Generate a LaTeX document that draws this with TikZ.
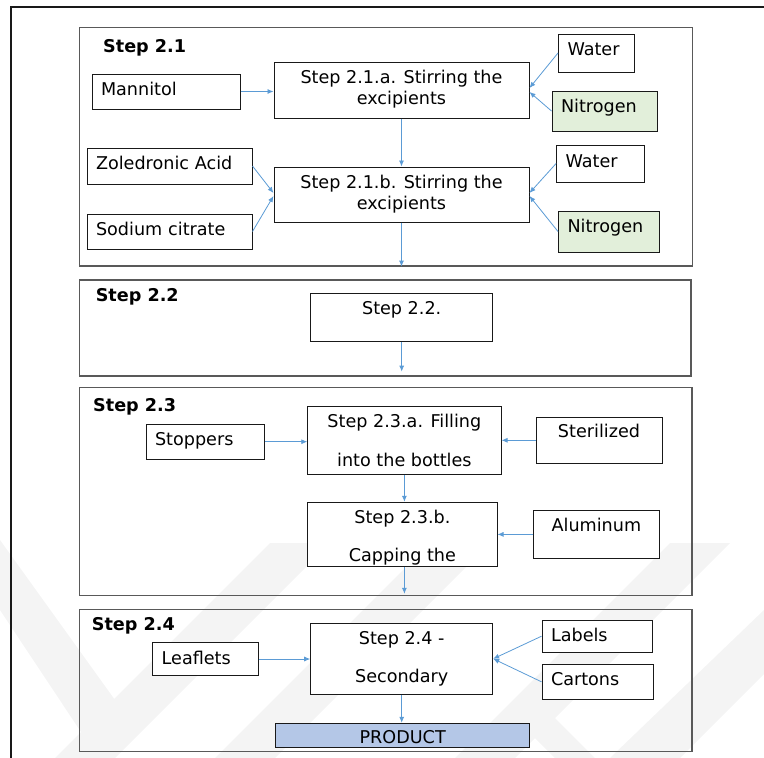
\documentclass[tikz,border=0pt]{standalone}
\usepackage{fontspec}
\setmainfont{DejaVu Sans}
\usetikzlibrary{arrows.meta}

\definecolor{flowblue}{HTML}{5B9BD5}
\definecolor{nitrogreen}{HTML}{E2EFDA}
\definecolor{productblue}{HTML}{B4C7E7}
\definecolor{markgray}{HTML}{F4F4F4}

\begin{document}
\begin{tikzpicture}[x = 1pt, y = -1pt, font = \fontsize{17.6}{21.3}\selectfont,
        stagebox/.style = {draw = black!65, line width = 1.2pt, inner sep = 0pt},
        heading/.style = {font = \fontsize{17.6}{21}\selectfont\bfseries, anchor = base west, inner sep = 0pt},
        inbox/.style = {draw = black!90, fill = white, line width = 1pt, align = left, inner xsep = 9pt, inner ysep = 0pt, text height = 13pt, text depth = #1},
        topbox/.style = {draw = black!90, fill = white, line width = 1pt, align = center, inner sep = 0pt, text height = 13pt, text depth = #1},
        stepbox/.style 2 args = {draw = black!90, fill = white, line width = 1pt, align = center, inner sep = 0pt, text height = #1, text depth = #2},
        tallstep/.style 2 args = {stepbox = {#1}{#2}, font = \fontsize{17.6}{38.5}\selectfont},
        flow/.style = {draw = flowblue, line width = 0.8pt, -{Latex[length = 6pt, width = 5pt]}}]
            \useasboundingbox (0,0) rectangle (764,758);

            \fill [markgray] (0,540) -- (115,700) -- (85,738) -- (0,610) -- cycle;
            \fill [markgray] (270,543) -- (330,543) -- (115,758) -- (55,758) -- cycle;
            \fill [markgray] (430,543) -- (490,543) -- (275,758) -- (215,758) -- cycle;
            \fill [markgray] (670,543) -- (730,543) -- (515,758) -- (455,758) -- cycle;
            \fill [markgray] (764,610) -- (764,674) -- (680,758) -- (610,758) -- cycle;
            \fill [markgray] (510,713) -- (550,713) -- (595,758) -- (555,758) -- cycle;

            \draw [black!90, line width = 2pt] (11.3,758) -- (11.3,7) -- (764,7);

            \node [stagebox, minimum width = 613pt, minimum height = 238.3pt] (stage21) at (386,146.85) {};
            \node [stagebox, minimum width = 611.5pt, minimum height = 96pt] (stage22) at (385.25,328) {};
            \node [stagebox, minimum width = 612.5pt, minimum height = 208pt] (stage23) at (385.75,491.7) {};
            \node [stagebox, minimum width = 612.5pt, minimum height = 142.4pt] (stage24) at (385.75,680.5) {};

            \node [heading] (head21) at (103,52.7) {Step 2.1};
            \node [heading] (head22) at (95.6,301) {Step 2.2};
            \node [heading] (head23) at (93,411.7) {Step 2.3};
            \node [heading] (head24) at (91.7,630) {Step 2.4};

            \node [inbox = 5.4pt, text width = 130pt, minimum height = 35pt] (mannitol) at (166,91.5) {Mannitol};
            \node [stepbox = {35pt}{6.4pt}, minimum width = 255pt, minimum height = 56pt] (stir21a) at (401.5,90) {Step 2.1.a. Stirring the\\excipients};
            \node [inbox = 7.6pt, text width = 58pt, minimum height = 38pt] (water21a) at (596.5,53) {Water};
            \node [inbox = 10.4pt, fill = nitrogreen, text width = 87pt, minimum height = 40pt] (nitro21a) at (604.5,111) {Nitrogen};
            \node [inbox = 7pt, text width = 147pt, minimum height = 36pt] (zoledronic) at (169.5,166) {Zoledronic Acid};
            \node [inbox = 5.4pt, text width = 147pt, minimum height = 35pt] (citrate) at (169.5,231.5) {Sodium citrate};
            \node [stepbox = {36pt}{6.4pt}, minimum width = 255pt, minimum height = 55pt] (stir21b) at (401.5,194.5) {Step 2.1.b. Stirring the\\excipients};
            \node [inbox = 5.4pt, text width = 69.4pt, minimum height = 37pt] (water21b) at (600.3,163.5) {Water};
            \node [inbox = 11.4pt, fill = nitrogreen, text width = 82.5pt, minimum height = 41pt] (nitro21b) at (608.75,231.5) {Nitrogen};

            \node [topbox = 20pt, minimum width = 182pt, minimum height = 48.4pt] (step22) at (401.7,317.5) {Step 2.2.};

            \node [inbox = 6.4pt, text width = 100pt, minimum height = 35.3pt] (stoppers) at (205,441.7) {Stoppers};
            \node [tallstep = {58pt}{6.6pt}, minimum width = 193.2pt, minimum height = 68pt] (fill23a) at (404.4,440.3) {Step 2.3.a. Filling\\into the bottles};
            \node [topbox = 18.2pt, minimum width = 126pt, minimum height = 46pt] (sterilized) at (599,440.3) {Sterilized};
            \node [tallstep = {58pt}{3.6pt}, minimum width = 189.2pt, minimum height = 64.4pt] (cap23b) at (402.4,534.5) {Step 2.3.b.\\Capping the};
            \node [topbox = 19.8pt, minimum width = 125.3pt, minimum height = 48.7pt] (aluminum) at (596.4,534.4) {Aluminum};

            \node [inbox = 3pt, text width = 87.3pt, minimum height = 32.6pt] (leaflets) at (205.35,659) {Leaflets};
            \node [tallstep = {52pt}{4.2pt}, minimum width = 182pt, minimum height = 71pt] (secondary) at (401.7,658.8) {Step 2.4 -\\Secondary};
            \node [inbox = 3pt, text width = 92pt, minimum height = 31.7pt] (labels) at (597,636.2) {Labels};
            \node [inbox = 6pt, text width = 93pt, minimum height = 35pt] (cartons) at (597.5,681.8) {Cartons};
            \node [stepbox = {18pt}{2.4pt}, fill = productblue, minimum width = 254.2pt, minimum height = 24.4pt] (product) at (402.7,735.5) {PRODUCT};

            \draw [flow] (mannitol.east) -- (mannitol.east -| stir21a.west);
            \draw [flow] (water21a.west) -- ([yshift = 2pt]stir21a.east);
            \draw [flow] (nitro21a.west) -- ([yshift = -2pt]stir21a.east);
            \draw [flow] (zoledronic.east) -- ([yshift = 1.5pt]stir21b.west);
            \draw [flow] (citrate.east) -- ([yshift = -1.5pt]stir21b.west);
            \draw [flow] (water21b.west) -- ([yshift = 1.5pt]stir21b.east);
            \draw [flow] (nitro21b.west) -- ([yshift = -1.5pt]stir21b.east);
            \draw [flow] (stir21a) -- (stir21b);
            \draw [flow] (stir21b) -- (stir21b |- stage21.south);

            \draw [flow] (step22) -- ([yshift = 5pt]step22 |- stage22.south);

            \draw [flow] (stoppers.east) -- (stoppers.east -| fill23a.west);
            \draw [flow] (sterilized.west) -- (sterilized.west -| fill23a.east);
            \draw [flow] (fill23a) -- (fill23a |- cap23b.north);
            \draw [flow] (aluminum.west) -- (aluminum.west -| cap23b.east);
            \draw [flow] (fill23a |- cap23b.south) -- ([yshift = 2.5pt]fill23a |- stage23.south);

            \draw [flow] (leaflets.east) -- (leaflets.east -| secondary.west);
            \draw [flow] (labels.west) -- (secondary.east);
            \draw [flow] (cartons.west) -- (secondary.east);
            \draw [flow] (secondary) -- (secondary |- product.north);
        \end{tikzpicture}
\end{document}
